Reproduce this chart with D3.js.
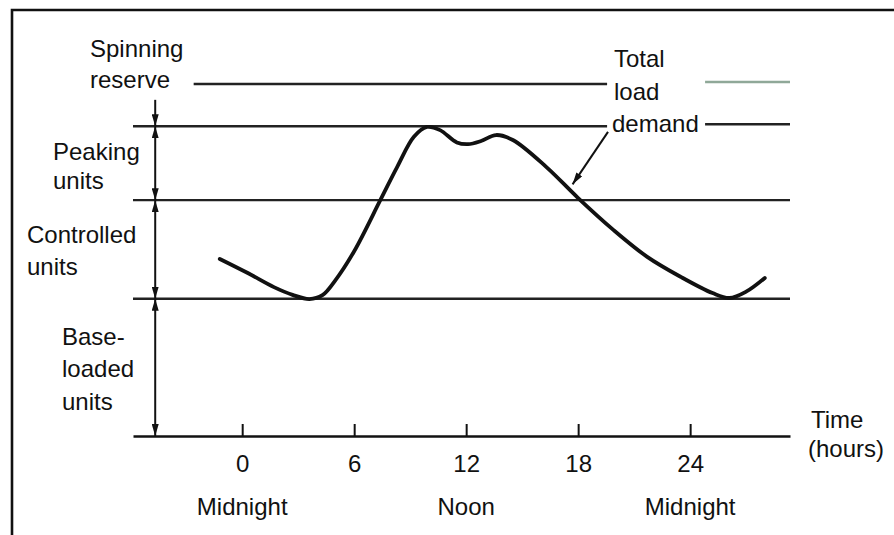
<!DOCTYPE html>
<meta charset="utf-8">
<style>
body { margin: 0; background: #fff; }
svg { display: block; }
.lbl { font-family: "Liberation Sans", Arial, sans-serif; font-size: 24px; fill: #111; }
.level { stroke: #222; stroke-width: 2.4; }
.tick text { font-family: "Liberation Sans", Arial, sans-serif; font-size: 24px; fill: #111; }
</style>
<body>
<script src="https://cdn.jsdelivr.net/npm/d3@7"></script>
<script>

// load curve over the day (hours, load in % of the spinning-reserve level)
var hours = [-1.2, 0.3, 1.7, 2.7, 3.6, 4.3, 5.0, 6.0, 7.4, 8.3, 9.2, 9.9, 10.6, 11.5, 12.1,
             12.8, 13.6, 14.5, 16.3, 18.0, 19.9, 21.7, 23.5, 25.2, 26.1, 27.0, 28.0];
var load  = [50.3, 46.3, 42.3, 40.1, 38.9, 40.0, 44.3, 52.5, 67, 76.4, 85, 87.8, 86.9, 83.4, 82.9,
             83.8, 85.5, 84.1, 76.4, 67.6, 58.5, 50.9, 45.2, 40.6, 39.2, 41.0, 44.9];

// horizontal level lines
var levelNames  = ["base", "controlled", "peak", "spinning"];
var levelValues = [39, 67, 88, 100];

// x ticks
var tickHours = [0, 6, 12, 18, 24];
var dayHours  = [0, 12, 24];
var dayLabels = ["Midnight", "Noon", "Midnight"];

var width = 894, height = 535;

var x = d3.scaleLinear().domain([-5.85, 29.35]).range([133, 790]);
var y = d3.scaleLinear().domain([0, 100]).range([436, 84]);

var svg = d3.select("body").append("svg")
    .attr("width", width)
    .attr("height", height);

// arrow heads
var defs = svg.append("defs");
defs.append("marker")
    .attr("id", "head")
    .attr("markerUnits", "userSpaceOnUse")
    .attr("viewBox", "0 0 12 7")
    .attr("refX", 12).attr("refY", 3.5)
    .attr("markerWidth", 12).attr("markerHeight", 7)
    .attr("orient", "auto-start-reverse")
  .append("path")
    .attr("d", "M0,0 L12,3.5 L0,7 Z")
    .attr("fill", "#111");

// frame
svg.append("path")
    .attr("d", "M12,535 L12,10 L894,10")
    .attr("fill", "none")
    .attr("stroke", "#111")
    .attr("stroke-width", 2.6);

// level lines (the top two are broken by the "Total load demand" label)
var gapFrom = 19.55, gapTo = 24.8;
levelNames.forEach(function(name, i) {
  var v = levelValues[i];
  var x0 = name == "spinning" ? -2.6 : x.domain()[0];
  if (name == "spinning" || name == "peak") {
    svg.append("line").attr("class", "level")
        .attr("x1", x(x0)).attr("x2", x(gapFrom))
        .attr("y1", y(v)).attr("y2", y(v));
    svg.append("line").attr("class", "level")
        .attr("x1", x(gapTo)).attr("x2", x(x.domain()[1]))
        .attr("y1", y(v) - 2).attr("y2", y(v) - 2)
        .style("stroke", name == "spinning" ? "#8fa898" : "#222");
  } else {
    svg.append("line").attr("class", "level")
        .attr("x1", x(x0)).attr("x2", x(x.domain()[1]))
        .attr("y1", y(v)).attr("y2", y(v));
  }
});

// time axis, ticks pointing up, labels below
var axis = svg.append("g")
    .attr("transform", "translate(0," + y(0) + ")")
    .call(d3.axisBottom(x)
        .tickValues(tickHours)
        .tickSizeInner(-12)
        .tickSizeOuter(0)
        .tickPadding(19));
axis.select(".domain").attr("stroke", "#111").attr("stroke-width", 2.6);
axis.selectAll(".tick line").attr("stroke", "#111").attr("stroke-width", 2);
axis.selectAll(".tick text").attr("fill", "#111");

svg.selectAll(".day")
    .data(dayHours)
  .enter().append("text")
    .attr("class", "lbl")
    .attr("x", function(d) { return x(d); })
    .attr("y", 515)
    .attr("text-anchor", "middle")
    .text(function(d, i) { return dayLabels[i]; });

svg.append("text").attr("class", "lbl").attr("x", 811).attr("y", 428).text("Time");
svg.append("text").attr("class", "lbl").attr("x", 808).attr("y", 457).text("(hours)");

// vertical arrows between levels
var ax = -4.66;
var spans = [[95.5, 88, false], [88, 67, true], [67, 39, true], [39, 0, true]];
spans.forEach(function(s) {
  svg.append("line")
      .attr("x1", x(ax)).attr("x2", x(ax))
      .attr("y1", y(s[0])).attr("y2", y(s[1]))
      .attr("stroke", "#111").attr("stroke-width", 2)
      .attr("marker-end", "url(#head)")
      .attr("marker-start", s[2] ? "url(#head)" : null);
});

// left labels
var leftLabels = [
  ["Spinning", 90, 57], ["reserve", 90, 88],
  ["Peaking", 53, 160], ["units", 53, 189],
  ["Controlled", 27, 243], ["units", 27, 275],
  ["Base-", 62, 345], ["loaded", 62, 377], ["units", 62, 410],
  ["Total", 614, 67], ["load", 614, 100], ["demand", 612, 132]
];
leftLabels.forEach(function(l) {
  svg.append("text").attr("class", "lbl").attr("x", l[1]).attr("y", l[2]).text(l[0]);
});

// load curve
var line = d3.line()
    .x(function(d) { return x(d[0]); })
    .y(function(d) { return y(d[1]); })
    .curve(d3.curveCatmullRom.alpha(0.5));

svg.append("path")
    .datum(hours.map(function(h, i) { return [h, load[i]]; }))
    .attr("d", line)
    .attr("fill", "none")
    .attr("stroke", "#111")
    .attr("stroke-width", 3.8)
    .attr("stroke-linecap", "round");

// pointer from the label to the curve
svg.append("line")
    .attr("x1", x(19.6)).attr("y1", y(86.4))
    .attr("x2", x(17.7)).attr("y2", y(71.5))
    .attr("stroke", "#111").attr("stroke-width", 2)
    .attr("marker-end", "url(#head)");

</script>
</body>
